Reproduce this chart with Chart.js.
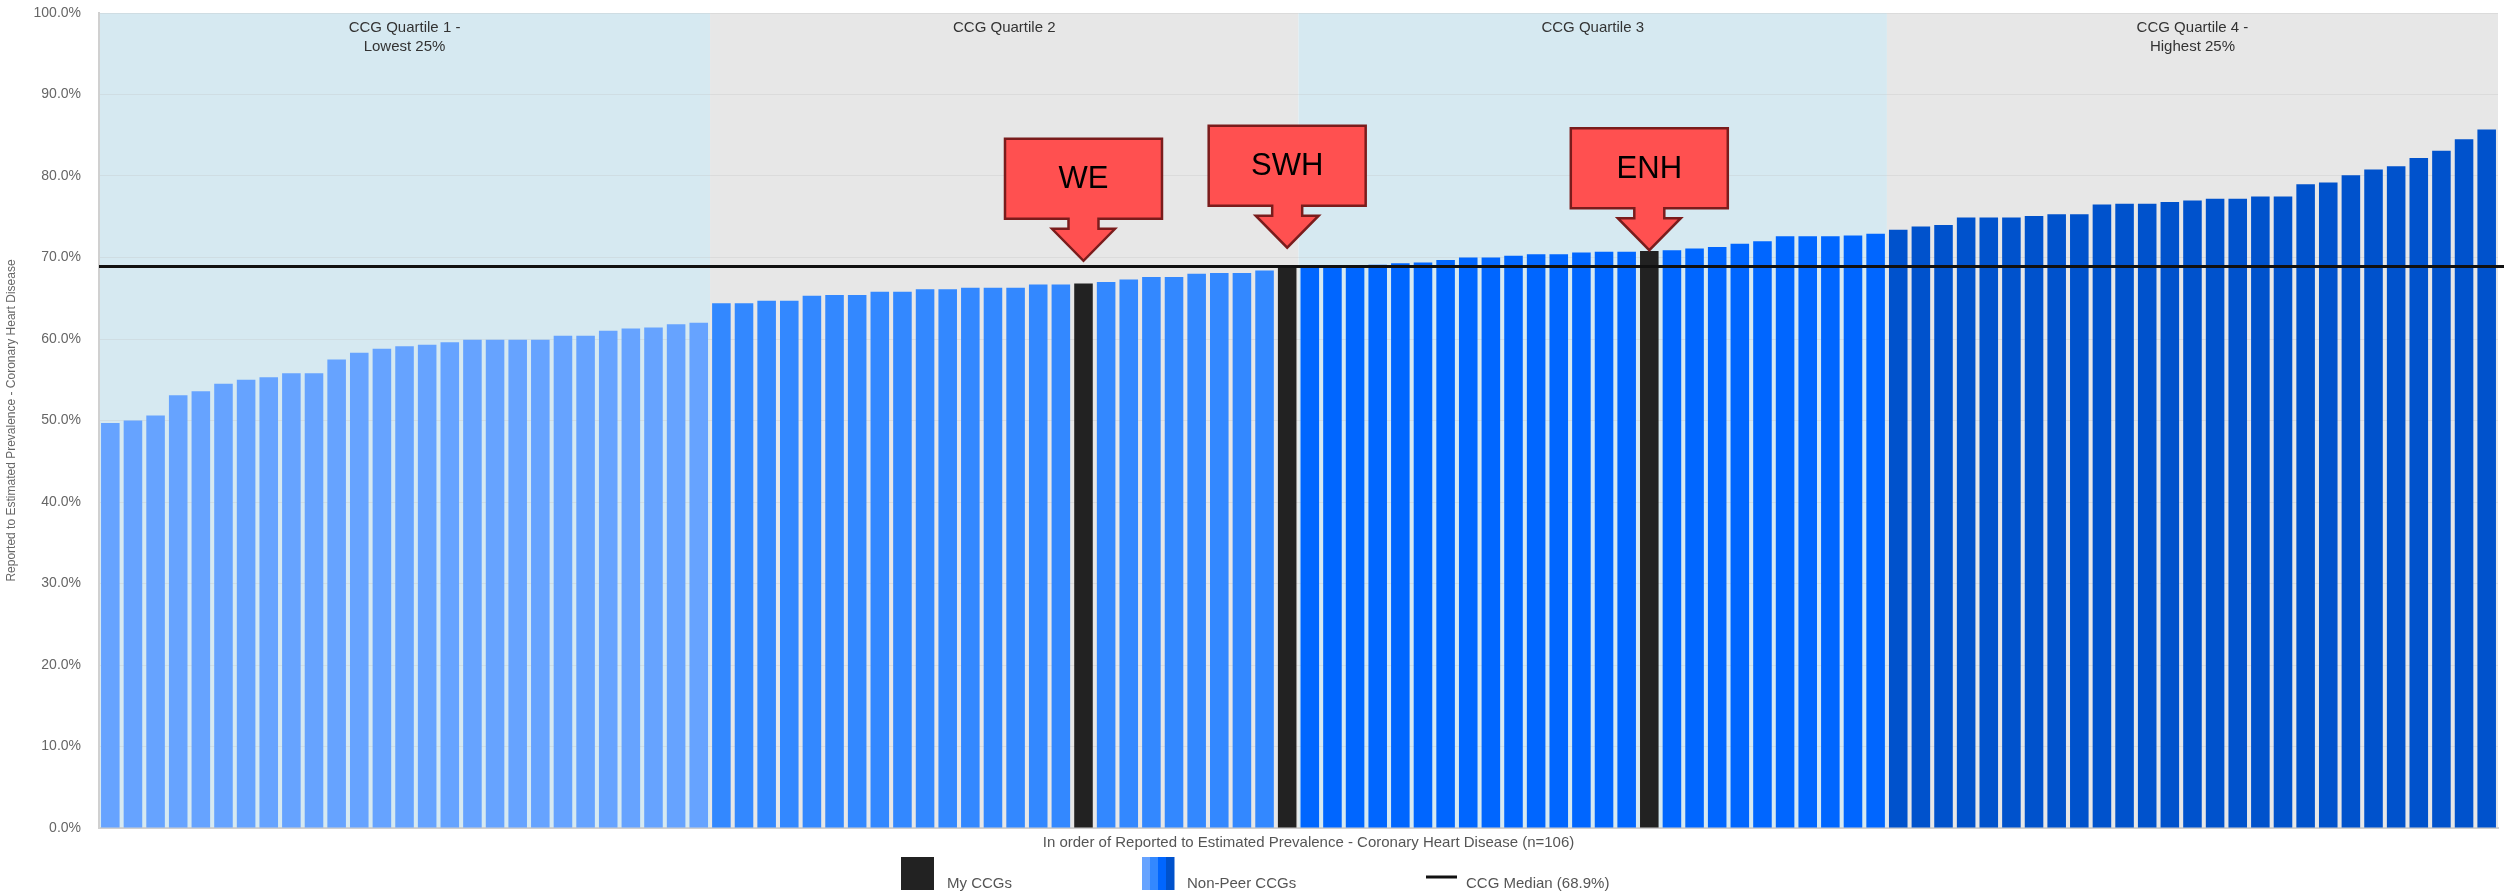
<!DOCTYPE html>
<html>
<head>
<meta charset="utf-8">
<script src="https://cdn.jsdelivr.net/npm/chart.js@4/dist/chart.umd.min.js"></script>
<style>
  html, body { margin: 0; padding: 0; background: #ffffff; }
  #wrap { width: 2511px; height: 893px; }
</style>
</head>
<body>
<div id="wrap"><canvas id="c" width="2511" height="893"></canvas></div>
<script>
// ---------------- DATA ----------------
const q1Values = [49.7, 50.0, 50.6, 53.1, 53.6, 54.5, 55.0, 55.3, 55.8, 55.8, 57.5, 58.3, 58.8, 59.1, 59.3, 59.6, 59.9, 59.9, 59.9, 59.9, 60.4, 60.4, 61.0, 61.3, 61.4, 61.8, 62.0];
const q2Values = [64.4, 64.4, 64.7, 64.7, 65.3, 65.4, 65.4, 65.8, 65.8, 66.1, 66.1, 66.3, 66.3, 66.3, 66.7, 66.7, 66.8, 67.0, 67.3, 67.6, 67.6, 68.0, 68.1, 68.1, 68.4, 68.8];
const q3Values = [68.9, 68.9, 69.0, 69.1, 69.3, 69.4, 69.7, 70.0, 70.0, 70.2, 70.4, 70.4, 70.6, 70.7, 70.7, 70.8, 70.9, 71.1, 71.3, 71.7, 72.0, 72.6, 72.6, 72.6, 72.7, 72.9];
const q4Values = [73.4, 73.8, 74.0, 74.9, 74.9, 74.9, 75.1, 75.3, 75.3, 76.5, 76.6, 76.6, 76.8, 77.0, 77.2, 77.2, 77.5, 77.5, 79.0, 79.2, 80.1, 80.8, 81.2, 82.2, 83.1, 84.5, 85.7];

const quartileTitles = [["CCG Quartile 1 -", "Lowest 25%"], ["CCG Quartile 2"], ["CCG Quartile 3"], ["CCG Quartile 4 -", "Highest 25%"]];
const quartileBarColors = ["#66a3ff", "#3388ff", "#0066ff", "#0052cc"];
const quartileBgColors = ["#d6e9f1", "#e7e7e7", "#d6e9f1", "#e7e7e7"];

const myCcgIndex = [43, 52, 68];          // positions of My CCGs in the ranked order
const myCcgLabels = ["WE", "SWH", "ENH"];
const calloutTipValue = [69.6, 71.2, 70.9]; // y-value where each arrow tip points

const medianValue = 68.9;
const yTicks = { min: 0, max: 100, step: 10 };

const xTitle = "In order of Reported to Estimated Prevalence - Coronary Heart Disease (n=106)";
const yTitle = "Reported to Estimated Prevalence - Coronary Heart Disease";
const legendLabels = ["My CCGs", "Non-Peer CCGs", "CCG Median (68.9%)"];
const myCcgColor = "#222222";

// ---------------- BUILD ----------------
const quartiles = [q1Values, q2Values, q3Values, q4Values];
const values = [].concat(q1Values, q2Values, q3Values, q4Values);
const labels = values.map((v, i) => String(i + 1));
const colors = [];
quartiles.forEach((q, qi) => q.forEach(() => colors.push(quartileBarColors[qi])));
myCcgIndex.forEach(i => { colors[i] = myCcgColor; });

const FONT = '"Liberation Sans", Arial, sans-serif';

function quartileBounds(chart) {
  const { chartArea: a, scales: { x } } = chart;
  const half = (x.getPixelForValue(1) - x.getPixelForValue(0)) / 2;
  const out = [];
  let start = 0;
  quartiles.forEach((q, qi) => {
    const end = start + q.length - 1;
    const left = qi === 0 ? a.left : x.getPixelForValue(start) - half;
    const right = qi === quartiles.length - 1 ? a.right : x.getPixelForValue(end) + half;
    out.push([left, right]);
    start = end + 1;
  });
  return out;
}

const decorPlugin = {
  id: 'decor',
  beforeDraw(chart) {
    const { ctx, chartArea: a } = chart;
    ctx.save();
    quartileBounds(chart).forEach(([left, right], qi) => {
      ctx.fillStyle = quartileBgColors[qi];
      ctx.fillRect(left, a.top, right - left, a.bottom - a.top);
    });
    ctx.restore();
  },
  afterDatasetsDraw(chart) {
    const { ctx, chartArea: a, scales: { x, y } } = chart;
    ctx.save();
    // median line
    const my = y.getPixelForValue(medianValue);
    ctx.strokeStyle = '#111111';
    ctx.lineWidth = 3;
    ctx.beginPath();
    ctx.moveTo(a.left, my);
    ctx.lineTo(a.right + 6, my);
    ctx.stroke();

    // quartile titles
    ctx.fillStyle = '#333333';
    ctx.font = '15px ' + FONT;
    ctx.textAlign = 'center';
    ctx.textBaseline = 'middle';
    quartileBounds(chart).forEach(([left, right], qi) => {
      const cx = (left + right) / 2;
      quartileTitles[qi].forEach((t, li) => ctx.fillText(t, cx, a.top + 15 + li * 19));
    });

    // callouts
    const W = 157, H = 80, stemW = 30, headW = 63, headH = 32, gap = 10;
    myCcgIndex.forEach((idx, k) => {
      const cx = x.getPixelForValue(idx);
      const tip = y.getPixelForValue(calloutTipValue[k]);
      const headTop = tip - headH;
      const bottom = headTop - gap;
      const top = bottom - H;
      const l = cx - W / 2, r = cx + W / 2;
      ctx.beginPath();
      ctx.moveTo(l, top);
      ctx.lineTo(r, top);
      ctx.lineTo(r, bottom);
      ctx.lineTo(cx + stemW / 2, bottom);
      ctx.lineTo(cx + stemW / 2, headTop);
      ctx.lineTo(cx + headW / 2, headTop);
      ctx.lineTo(cx, tip);
      ctx.lineTo(cx - headW / 2, headTop);
      ctx.lineTo(cx - stemW / 2, headTop);
      ctx.lineTo(cx - stemW / 2, bottom);
      ctx.lineTo(l, bottom);
      ctx.closePath();
      ctx.fillStyle = '#ff5050';
      ctx.fill();
      ctx.lineWidth = 2.5;
      ctx.strokeStyle = '#7a1c1c';
      ctx.lineJoin = 'miter';
      ctx.stroke();
      ctx.fillStyle = '#000000';
      ctx.font = '31px ' + FONT;
      ctx.textAlign = 'center';
      ctx.textBaseline = 'middle';
      ctx.fillText(myCcgLabels[k], cx, top + H / 2 + 1);
    });
    ctx.restore();
  },
  afterDraw(chart) {
    const { ctx, chartArea: a } = chart;
    ctx.save();
    // x-axis title
    ctx.fillStyle = '#555555';
    ctx.font = '15px ' + FONT;
    ctx.textAlign = 'center';
    ctx.textBaseline = 'middle';
    ctx.fillText(xTitle, (a.left + a.right) / 2 + 10, a.bottom + 15);

    // legend
    const baseY = 888;
    ctx.textAlign = 'left';
    ctx.textBaseline = 'alphabetic';
    // My CCGs
    ctx.fillStyle = myCcgColor;
    ctx.fillRect(901, 857, 33, 33);
    ctx.fillStyle = '#555555';
    ctx.fillText(legendLabels[0], 947, baseY);
    // Non-Peer CCGs (striped swatch)
    const sw = 32 / quartileBarColors.length;
    quartileBarColors.forEach((c, i) => {
      ctx.fillStyle = c;
      ctx.fillRect(1142 + i * sw, 857, sw + 0.5, 33);
    });
    ctx.fillStyle = '#555555';
    ctx.fillText(legendLabels[1], 1187, baseY);
    // Median
    ctx.strokeStyle = '#111111';
    ctx.lineWidth = 3;
    ctx.beginPath();
    ctx.moveTo(1426, 877);
    ctx.lineTo(1457, 877);
    ctx.stroke();
    ctx.fillText(legendLabels[2], 1466, baseY);
    ctx.restore();
  }
};

new Chart(document.getElementById('c'), {
  type: 'bar',
  data: {
    labels: labels,
    datasets: [{
      data: values,
      backgroundColor: colors,
      borderWidth: 0,
      barPercentage: 0.82,
      categoryPercentage: 1.0
    }]
  },
  options: {
    responsive: false,
    animation: false,
    devicePixelRatio: 1,
    layout: { padding: { top: 13, right: 13, left: 0, bottom: 0 } },
    plugins: { legend: { display: false }, tooltip: { enabled: false } },
    scales: {
      x: {
        grid: { display: false },
        ticks: { display: false },
        border: { display: true, color: '#cfcfcf', width: 2 },
        afterFit(scale) { scale.height = 65; scale.paddingLeft = 0; scale.paddingRight = 0; }
      },
      y: {
        min: yTicks.min,
        max: yTicks.max,
        ticks: {
          stepSize: yTicks.step,
          padding: 18,
          color: '#666666',
          font: { family: FONT, size: 14 },
          callback: v => v.toFixed(1) + '%'
        },
        grid: { color: 'rgba(190,190,190,0.28)', drawTicks: false, lineWidth: 1 },
        border: { display: true, color: '#d0d0d0', width: 2 },
        title: {
          display: true,
          text: yTitle,
          color: '#666666',
          font: { family: FONT, size: 12 },
          padding: { top: 4, bottom: 0 }
        },
        afterFit(scale) { scale.width = 99; scale.paddingTop = 0; scale.paddingBottom = 0; }
      }
    }
  },
  plugins: [decorPlugin]
});
</script>
</body>
</html>
